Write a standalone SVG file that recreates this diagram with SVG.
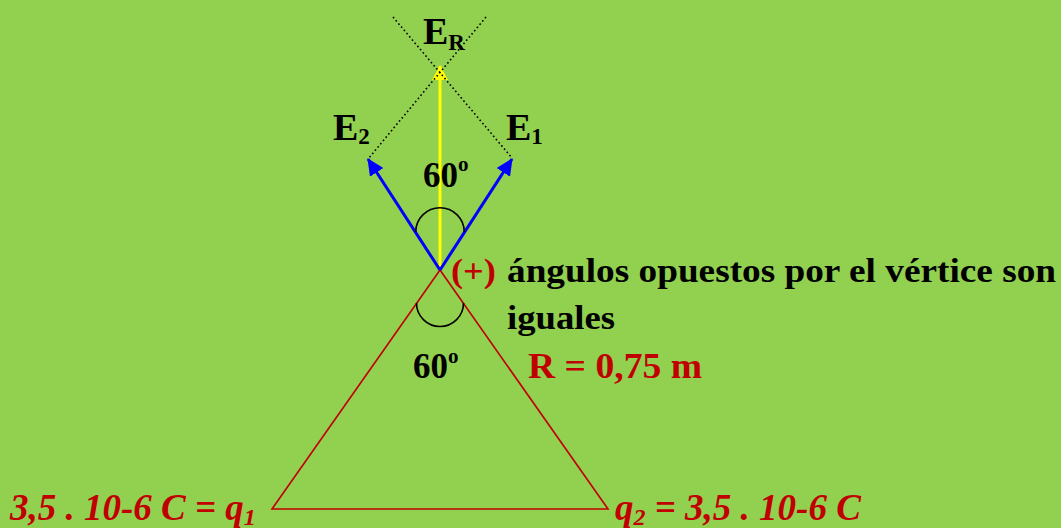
<svg xmlns="http://www.w3.org/2000/svg" width="1061" height="528" viewBox="0 0 1061 528">
<style>
.t{font-family:"Liberation Serif","Times New Roman",serif;font-weight:bold;fill:#000}
.r{fill:#C00000}
.it{font-style:italic}
.dot{stroke:#000;stroke-width:1.6;stroke-dasharray:1.6 2.6;fill:none}
.arc{stroke:#000;stroke-width:1.6;fill:none}
.tri{stroke:#C00000;stroke-width:1.6;fill:none}
</style>
<defs>
<marker id="ab" markerUnits="userSpaceOnUse" markerWidth="18" markerHeight="16" refX="16" refY="8" orient="auto">
<path d="M0,0 L17,8 L0,16 Z" fill="#0000FF"/>
</marker>
<marker id="ay" markerUnits="userSpaceOnUse" markerWidth="16" markerHeight="16" refX="14" refY="8" orient="auto">
<path d="M0,0 L15,8 L0,16 Z" fill="#FFFF00"/>
</marker>
</defs>
<rect width="1061" height="528" fill="#92D050"/>
<g id="connectors">
<polygon class="tri" points="440,270 272,509 608,509"/>
<line x1="440" y1="270" x2="440" y2="66" stroke="#FFFF00" stroke-width="3" marker-end="url(#ay)"/>
<line x1="440" y1="270" x2="368" y2="159" stroke="#0000FF" stroke-width="3" marker-end="url(#ab)"/>
<line x1="440" y1="270" x2="512" y2="159" stroke="#0000FF" stroke-width="3" marker-end="url(#ab)"/>
<line class="dot" x1="393" y1="17" x2="512" y2="158"/>
<line class="dot" x1="486" y1="17" x2="368" y2="159"/>
<path class="arc" d="M415.7,232 A24.3,24.3 0 0 1 464.3,232"/>
<path class="arc" d="M416.5,303 A23.5,23.5 0 0 0 463.5,303"/>
</g>
<g id="label-ER"><text class="t" x="423" y="44" font-size="38">E<tspan font-size="23" dy="6">R</tspan></text></g>
<g id="label-E2"><text class="t" x="333" y="140" font-size="38">E<tspan font-size="23" dy="4">2</tspan></text></g>
<g id="label-E1"><text class="t" x="506" y="140" font-size="38">E<tspan font-size="23" dy="4">1</tspan></text></g>
<g id="angle-top"><text class="t" x="423" y="187" font-size="35">60<tspan font-size="21" dy="-16">o</tspan></text></g>
<g id="angle-bottom"><text class="t" x="413" y="378" font-size="35">60<tspan font-size="21" dy="-15">o</tspan></text></g>
<g id="charge-sign"><text class="t r" x="451" y="282" font-size="34" textLength="45" lengthAdjust="spacingAndGlyphs">(+)</text></g>
<g id="note">
<text class="t" x="507" y="282" font-size="33" textLength="549" lengthAdjust="spacingAndGlyphs">ángulos opuestos por el vértice son</text>
<text class="t" x="507" y="329" font-size="33" textLength="108" lengthAdjust="spacingAndGlyphs">iguales</text>
</g>
<g id="radius"><text class="t r" x="528" y="378" font-size="35" textLength="174" lengthAdjust="spacingAndGlyphs">R = 0,75 m</text></g>
<g id="q1"><text class="t r it" x="10" y="520" font-size="37">3,5 . 10-6 C = q<tspan font-size="24" dy="5">1</tspan></text></g>
<g id="q2"><text class="t r it" x="615" y="520" font-size="37">q<tspan font-size="24" dy="5">2</tspan><tspan dy="-5"> = 3,5 . 10-6 C</tspan></text></g>
</svg>
